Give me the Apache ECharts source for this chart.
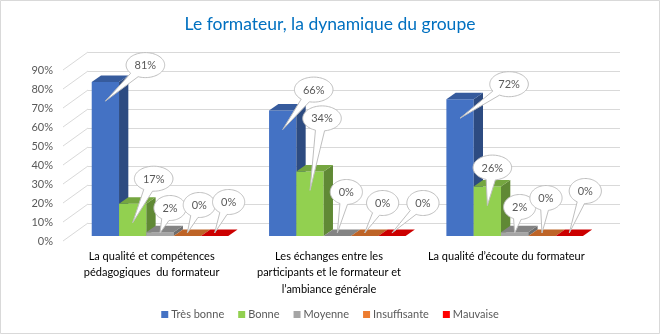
<!DOCTYPE html>
<html>
<head>
<meta charset="utf-8">
<script src="https://cdn.jsdelivr.net/npm/echarts@6/dist/echarts.min.js"></script>
<style>
  html, body { margin: 0; padding: 0; background: #fff; }
  #chart { width: 660px; height: 334px; }
</style>
</head>
<body>
<div id="chart"></div>
<script>
// ---- data ----
const categories = [
  'La qualité et compétences\npédagogiques  du formateur',
  'Les échanges entre les\nparticipants et le formateur et\nl’ambiance générale',
  'La qualité d’écoute du formateur'
];
const seriesNames = ['Très bonne', 'Bonne', 'Moyenne', 'Insuffisante', 'Mauvaise'];
const tresBonne    = [81, 66, 72];
const bonne        = [17, 34, 26];
const moyenne      = [2, 0, 2];
const insuffisante = [0, 0, 0];
const mauvaise     = [0, 0, 0];
const yTicks = [0, 10, 20, 30, 40, 50, 60, 70, 80, 90];

const seriesValues = [tresBonne, bonne, moyenne, insuffisante, mauvaise];

// ---- styling ----
const FONT = 'Lato, "Liberation Sans", sans-serif';
const palette = ['#4472C4', '#92D050', '#A5A5A5', '#ED7D31', '#FF0000'];
const GRID_W = 532, GRID_H = 171;
const WALL = { left: 88, top: 52 };     // back wall plane
const FLOOR = { left: 63, top: 70 };    // front plane carrying the axis labels
const PLANE = { left: 70, top: 65 };    // front faces of the bars
const BAR = { startRatio: 0.1225, widthRatio: 0.154, dx: 9.3, dy: 6.5 };

// callout bubble placement: shift of the bubble centre from its pointer tip [series][category]
const calloutShift = [
  [[40, -36], [31, -40], [49, -34]],
  [[21, -44], [12, -72], [5, -38]],
  [[10, -25], [9, -41], [5, -26]],
  [[12, -28], [18, -30], [4, -35]],
  [[14, -31], [31, -30], [16, -42]]
];

function shade(hex, k) {
  const n = parseInt(hex.slice(1), 16);
  const r = Math.round(((n >> 16) & 255) * k);
  const g = Math.round(((n >> 8) & 255) * k);
  const b = Math.round((n & 255) * k);
  return 'rgb(' + r + ',' + g + ',' + b + ')';
}

const measureCtx = document.createElement('canvas').getContext('2d');
measureCtx.font = '11px ' + FONT;

function barFrame(api, i, v, s) {
  const band = api.size([1, 0])[0];
  const base = api.coord([i, 0]);
  const top = api.coord([i, v]);
  const w = band * BAR.widthRatio;
  const x0 = base[0] - band / 2 + band * BAR.startRatio + s * w;
  return { x0: x0, w: w, yBase: base[1], yTop: top[1] };
}

const barSeries = seriesValues.map(function (vals, s) {
  const col = palette[s];
  return {
    type: 'custom',
    name: seriesNames[s],
    xAxisIndex: 2,
    yAxisIndex: 2,
    itemStyle: { color: col },
    data: vals.map(function (v, i) { return [i, v]; }),
    renderItem: function (params, api) {
      const f = barFrame(api, api.value(0), api.value(1), s);
      const xr = f.x0 + f.w;
      return {
        type: 'group',
        children: [
          { type: 'rect', shape: { x: f.x0, y: f.yTop, width: f.w, height: f.yBase - f.yTop },
            style: { fill: col } },
          { type: 'polygon', shape: { points: [[xr, f.yBase], [xr + BAR.dx, f.yBase - BAR.dy],
              [xr + BAR.dx, f.yTop - BAR.dy], [xr, f.yTop]] }, style: { fill: shade(col, 0.66) } },
          { type: 'polygon', shape: { points: [[f.x0, f.yTop], [f.x0 + BAR.dx, f.yTop - BAR.dy],
              [xr + BAR.dx, f.yTop - BAR.dy], [xr, f.yTop]] }, style: { fill: shade(col, 0.8) } }
        ]
      };
    }
  };
});

// data callouts: a bubble with a pointer into each bar
const calloutData = [];
seriesValues.forEach(function (vals, s) {
  vals.forEach(function (v, i) { calloutData.push([i, v, s]); });
});

const calloutSeries = {
  type: 'custom',
  xAxisIndex: 2,
  yAxisIndex: 2,
  z: 5,
  data: calloutData,
  renderItem: function (params, api) {
    const i = api.value(0), v = api.value(1), s = api.value(2);
    const f = barFrame(api, i, v, s);
    const tx = f.x0 + f.w / 2;
    const ty = Math.min(f.yTop + 19, f.yBase - 3);
    const sh = calloutShift[s][i];
    const cx = tx + sh[0], cy = ty + sh[1];
    const label = v + '%';
    const rx = measureCtx.measureText(label).width / 2 + 8.5;
    const ry = 12.5;
    const phi = Math.atan2((ty - cy) / ry, (tx - cx) / rx);
    const delta = 0.24;
    const pts = [];
    const N = 72;
    for (let k = 0; k <= N; k++) {
      const a = phi + delta + (2 * Math.PI - 2 * delta) * k / N;
      pts.push([cx + rx * Math.cos(a), cy + ry * Math.sin(a)]);
    }
    pts.push([tx, ty]);
    return {
      type: 'group',
      children: [
        { type: 'polygon', shape: { points: pts },
          style: { fill: '#fff', stroke: '#BFBFBF', lineWidth: 1 } },
        { type: 'text', style: { text: label, x: cx, y: cy + 0.5, align: 'center', verticalAlign: 'middle',
          fill: '#595959', fontSize: 11, fontFamily: FONT } }
      ]
    };
  }
};

// receding floor lines joining each tick label to the back wall
const floorLines = {
  type: 'custom',
  xAxisIndex: 1,
  yAxisIndex: 1,
  silent: true,
  data: yTicks.map(function (v) { return [0, v]; }),
  renderItem: function (params, api) {
    const p = api.coord([0, api.value(1)]);
    const band = api.size([1, 0])[0];
    const x = p[0] - band / 2;
    return {
      type: 'line',
      shape: { x1: x, y1: p[1], x2: x + (WALL.left - FLOOR.left), y2: p[1] + (WALL.top - FLOOR.top) },
      style: { stroke: '#D9D9D9', lineWidth: 1 }
    };
  }
};

const option = {
  animation: false,
  backgroundColor: '#fff',
  title: {
    text: 'Le formateur, la dynamique du groupe',
    left: 'center',
    top: 10,
    textStyle: { color: '#0070C0', fontSize: 17.5, fontWeight: 'normal', fontFamily: FONT }
  },
  legend: {
    data: seriesNames,
    left: 'center',
    top: 304,
    icon: 'rect',
    itemWidth: 7,
    itemHeight: 7,
    itemGap: 14,
    textStyle: { color: '#595959', fontSize: 11, fontFamily: FONT, padding: [0, 0, 0, -2] }
  },
  graphic: [{
    type: 'rect', silent: true, z: -10,
    shape: { x: 0.5, y: 0.5, width: 659, height: 333 },
    style: { fill: 'none', stroke: '#D9D9D9', lineWidth: 1 }
  }],
  grid: [
    { left: WALL.left, top: WALL.top, width: GRID_W, height: GRID_H },
    { left: FLOOR.left, top: FLOOR.top, width: GRID_W, height: GRID_H },
    { left: PLANE.left, top: PLANE.top, width: GRID_W, height: GRID_H }
  ],
  xAxis: [
    { type: 'category', gridIndex: 0, data: categories, show: false },
    { type: 'category', gridIndex: 1, data: categories,
      axisLine: { show: false }, axisTick: { show: false },
      axisLabel: { interval: 0, margin: 7, color: '#000', fontSize: 11, lineHeight: 16.5, fontFamily: FONT } },
    { type: 'category', gridIndex: 2, data: categories, show: false }
  ],
  yAxis: [
    { type: 'value', gridIndex: 0, min: 0, max: 90, interval: 10,
      axisLabel: { show: false }, axisLine: { show: false }, axisTick: { show: false },
      splitLine: { show: true, lineStyle: { color: '#D9D9D9', width: 1 } } },
    { type: 'value', gridIndex: 1, min: 0, max: 90, interval: 10,
      axisLine: { show: false }, axisTick: { show: false }, splitLine: { show: false },
      axisLabel: { formatter: '{value}%', margin: 10, color: '#595959', fontSize: 11, fontFamily: FONT } },
    { type: 'value', gridIndex: 2, min: 0, max: 90, interval: 10, show: false, splitLine: { show: false } }
  ],
  series: [floorLines].concat(barSeries, [calloutSeries])
};

const chart = echarts.init(document.getElementById('chart'), null, { renderer: 'canvas' });
chart.setOption(option);
</script>
</body>
</html>
